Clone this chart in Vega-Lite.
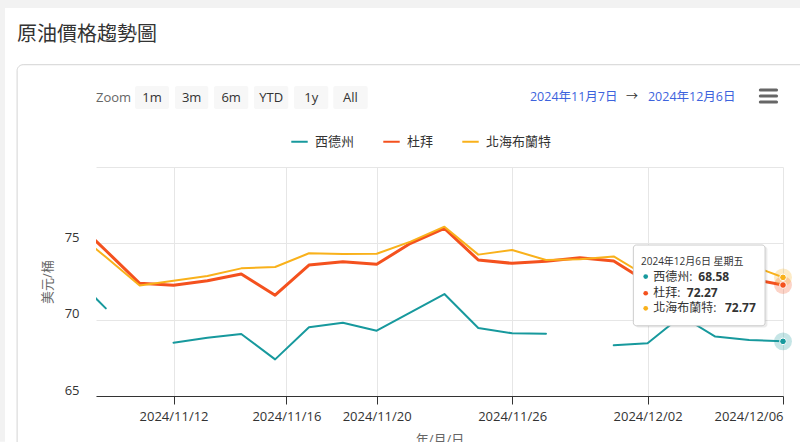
{
  "$schema": "https://vega.github.io/schema/vega-lite/v6.json",
  "autosize": {"type": "none"},
  "width": 687,
  "height": 229,
  "padding": {"left": 96, "top": 167, "right": 17, "bottom": 46},
  "background": "white",
  "config": {
    "font": "Open Sans, Noto Sans CJK TC, sans-serif",
    "view": {"stroke": null}
  },
  "title": {
    "text": "原油價格趨勢圖",
    "anchor": "start",
    "frame": "group",
    "dx": -79,
    "offset": -45,
    "fontSize": 20,
    "fontWeight": "normal",
    "color": "#333333"
  },
  "data": {
    "values": [
      {"date": "2024-11-07", "i": 0, "series": "西德州", "value": 72.97},
      {"date": "2024-11-08", "i": 1, "series": "西德州", "value": 70.74},
      {"date": "2024-11-11", "i": 2, "series": "西德州", "value": null},
      {"date": "2024-11-12", "i": 3, "series": "西德州", "value": 68.49},
      {"date": "2024-11-13", "i": 4, "series": "西德州", "value": 68.82},
      {"date": "2024-11-14", "i": 5, "series": "西德州", "value": 69.06},
      {"date": "2024-11-15", "i": 6, "series": "西德州", "value": 67.40},
      {"date": "2024-11-18", "i": 7, "series": "西德州", "value": 69.50},
      {"date": "2024-11-19", "i": 8, "series": "西德州", "value": 69.80},
      {"date": "2024-11-20", "i": 9, "series": "西德州", "value": 69.28},
      {"date": "2024-11-21", "i": 10, "series": "西德州", "value": 70.48},
      {"date": "2024-11-22", "i": 11, "series": "西德州", "value": 71.68},
      {"date": "2024-11-25", "i": 12, "series": "西德州", "value": 69.45},
      {"date": "2024-11-26", "i": 13, "series": "西德州", "value": 69.11},
      {"date": "2024-11-27", "i": 14, "series": "西德州", "value": 69.08},
      {"date": "2024-11-28", "i": 15, "series": "西德州", "value": null},
      {"date": "2024-11-29", "i": 16, "series": "西德州", "value": 68.32},
      {"date": "2024-12-02", "i": 17, "series": "西德州", "value": 68.45},
      {"date": "2024-12-03", "i": 18, "series": "西德州", "value": 70.24},
      {"date": "2024-12-04", "i": 19, "series": "西德州", "value": 68.89},
      {"date": "2024-12-05", "i": 20, "series": "西德州", "value": 68.67},
      {"date": "2024-12-06", "i": 21, "series": "西德州", "value": 68.58},
      {"date": "2024-11-07", "i": 0, "series": "杜拜", "value": 76.64},
      {"date": "2024-11-08", "i": 1, "series": "杜拜", "value": 74.53},
      {"date": "2024-11-11", "i": 2, "series": "杜拜", "value": 72.38},
      {"date": "2024-11-12", "i": 3, "series": "杜拜", "value": 72.25},
      {"date": "2024-11-13", "i": 4, "series": "杜拜", "value": 72.55},
      {"date": "2024-11-14", "i": 5, "series": "杜拜", "value": 72.99},
      {"date": "2024-11-15", "i": 6, "series": "杜拜", "value": 71.60},
      {"date": "2024-11-18", "i": 7, "series": "杜拜", "value": 73.58},
      {"date": "2024-11-19", "i": 8, "series": "杜拜", "value": 73.80},
      {"date": "2024-11-20", "i": 9, "series": "杜拜", "value": 73.63},
      {"date": "2024-11-21", "i": 10, "series": "杜拜", "value": 75.00},
      {"date": "2024-11-22", "i": 11, "series": "杜拜", "value": 75.98},
      {"date": "2024-11-25", "i": 12, "series": "杜拜", "value": 73.91},
      {"date": "2024-11-26", "i": 13, "series": "杜拜", "value": 73.69},
      {"date": "2024-11-27", "i": 14, "series": "杜拜", "value": 73.82},
      {"date": "2024-11-28", "i": 15, "series": "杜拜", "value": 74.06},
      {"date": "2024-11-29", "i": 16, "series": "杜拜", "value": 73.84},
      {"date": "2024-12-02", "i": 17, "series": "杜拜", "value": 72.45},
      {"date": "2024-12-03", "i": 18, "series": "杜拜", "value": 73.20},
      {"date": "2024-12-04", "i": 19, "series": "杜拜", "value": 72.90},
      {"date": "2024-12-05", "i": 20, "series": "杜拜", "value": 72.69},
      {"date": "2024-12-06", "i": 21, "series": "杜拜", "value": 72.27},
      {"date": "2024-11-07", "i": 0, "series": "北海布蘭特", "value": 75.94},
      {"date": "2024-11-08", "i": 1, "series": "北海布蘭特", "value": 74.10},
      {"date": "2024-11-11", "i": 2, "series": "北海布蘭特", "value": 72.24},
      {"date": "2024-11-12", "i": 3, "series": "北海布蘭特", "value": 72.55},
      {"date": "2024-11-13", "i": 4, "series": "北海布蘭特", "value": 72.86},
      {"date": "2024-11-14", "i": 5, "series": "北海布蘭特", "value": 73.36},
      {"date": "2024-11-15", "i": 6, "series": "北海布蘭特", "value": 73.45},
      {"date": "2024-11-18", "i": 7, "series": "北海布蘭特", "value": 74.35},
      {"date": "2024-11-19", "i": 8, "series": "北海布蘭特", "value": 74.30},
      {"date": "2024-11-20", "i": 9, "series": "北海布蘭特", "value": 74.32},
      {"date": "2024-11-21", "i": 10, "series": "北海布蘭特", "value": 75.11},
      {"date": "2024-11-22", "i": 11, "series": "北海布蘭特", "value": 76.09},
      {"date": "2024-11-25", "i": 12, "series": "北海布蘭特", "value": 74.26},
      {"date": "2024-11-26", "i": 13, "series": "北海布蘭特", "value": 74.56},
      {"date": "2024-11-27", "i": 14, "series": "北海布蘭特", "value": 73.91},
      {"date": "2024-11-28", "i": 15, "series": "北海布蘭特", "value": 73.95},
      {"date": "2024-11-29", "i": 16, "series": "北海布蘭特", "value": 74.14},
      {"date": "2024-12-02", "i": 17, "series": "北海布蘭特", "value": 72.81},
      {"date": "2024-12-03", "i": 18, "series": "北海布蘭特", "value": 73.80},
      {"date": "2024-12-04", "i": 19, "series": "北海布蘭特", "value": 73.30},
      {"date": "2024-12-05", "i": 20, "series": "北海布蘭特", "value": 73.60},
      {"date": "2024-12-06", "i": 21, "series": "北海布蘭特", "value": 72.77}
    ]
  },
  "layer": [
    {
      "data": {"values": [{}]},
      "layer": [
        {"mark": {"type": "rect", "fill": "#f2f2f2"},
         "encoding": {"x": {"datum": -2.2}, "x2": {"datum": 22.1}, "y": {"datum": 90.94}, "y2": {"datum": 90.41}}},
        {"mark": {"type": "rect", "fill": "#f2f2f2"},
         "encoding": {"x": {"datum": -2.2}, "x2": {"datum": -1.978}, "y": {"datum": 90.94}, "y2": {"datum": 62}}},
        {"mark": {"type": "rect", "filled": false, "stroke": "#d4d4d4", "strokeWidth": 1, "cornerRadius": 6},
         "encoding": {"x": {"datum": -1.62}, "x2": {"datum": 23}, "y": {"datum": 86.7}, "y2": {"datum": 58}}}
      ]
    },
    {
      "mark": {"type": "line", "clip": true, "invalid": "break-paths-show-domains", "strokeJoin": "round", "strokeCap": "round"},
      "encoding": {
        "x": {
          "field": "i", "type": "quantitative",
          "scale": {"domain": [0.71, 21], "nice": false, "zero": false},
          "axis": {
            "values": [3, 6.3333, 9, 13, 17, 21],
            "labelExpr": "datum.value < 4 ? '2024/11/12' : datum.value < 7 ? '2024/11/16' : datum.value < 10 ? '2024/11/20' : datum.value < 14 ? '2024/11/26' : datum.value < 18 ? '2024/12/02' : '2024/12/06'",
            "title": "年/月/日",
            "grid": true, "gridColor": "#e6e6e6",
            "domainColor": "#333333", "tickColor": "#333333", "tickSize": 8,
            "labelPadding": 6, "labelFontSize": 13, "labelColor": "#333333",
            "titleFontSize": 13, "titleColor": "#666666", "titleFontWeight": "normal", "titlePadding": 10
          }
        },
        "y": {
          "field": "value", "type": "quantitative",
          "scale": {"domain": [65, 80], "nice": false, "zero": false},
          "axis": {
            "values": [65, 70, 75, 80],
            "labelExpr": "datum.value == 80 ? '' : datum.label",
            "title": "美元/桶",
            "grid": true, "gridColor": "#e6e6e6",
            "domain": false, "ticks": false,
            "labelPadding": 17, "labelOffset": -6, "labelFontSize": 13, "labelColor": "#333333",
            "titleFontSize": 13, "titleColor": "#666666", "titleFontWeight": "normal", "titlePadding": 10
          }
        },
        "color": {
          "field": "series", "type": "nominal",
          "scale": {"domain": ["西德州", "杜拜", "北海布蘭特"], "range": ["#17999d", "#f4511e", "#f9b11b"]},
          "legend": {
            "title": null, "orient": "none", "legendX": 194, "legendY": -35, "direction": "horizontal",
            "symbolType": "stroke", "symbolStrokeWidth": 2, "symbolSize": 270, "symbolOpacity": 1,
            "labelFontSize": 13, "labelColor": "#333333", "labelOffset": 6, "columnPadding": 24, "padding": 0,
            "encode": {"symbols": {"update": {"opacity": {"value": 1}, "strokeOpacity": {"value": 1}}}}
          }
        },
        "strokeWidth": {"condition": {"test": "datum.series === '杜拜'", "value": 3}, "value": 2}
      }
    },
    {
      "transform": [{"filter": "datum.i == 21"}],
      "mark": {"type": "point", "filled": true, "size": 320, "fillOpacity": 0.25},
      "encoding": {
        "x": {"field": "i", "type": "quantitative"},
        "y": {"field": "value", "type": "quantitative"},
        "color": {"field": "series", "type": "nominal"}
      }
    },
    {
      "transform": [{"filter": "datum.i == 21"}],
      "mark": {"type": "point", "filled": true, "size": 45, "opacity": 1, "stroke": "white", "strokeWidth": 1},
      "encoding": {
        "x": {"field": "i", "type": "quantitative"},
        "y": {"field": "value", "type": "quantitative"},
        "color": {"field": "series", "type": "nominal"}
      }
    },
    {
      "data": {"values": [{}]},
      "layer": [
        {"mark": {"type": "rect", "fill": "#000000", "opacity": 0.08, "cornerRadius": 3},
         "encoding": {"x": {"datum": 16.64}, "x2": {"datum": 20.54}, "y": {"datum": 74.8}, "y2": {"datum": 69.48}}},
        {"mark": {"type": "rect", "fill": "#ffffff", "stroke": "#cccccc", "strokeWidth": 1, "cornerRadius": 3},
         "encoding": {"x": {"datum": 16.58}, "x2": {"datum": 20.47}, "y": {"datum": 74.89}, "y2": {"datum": 69.6}}},
        {"mark": {"type": "text", "align": "left", "baseline": "middle", "fontSize": 10, "color": "#333333"},
         "encoding": {"x": {"datum": 16.806}, "y": {"datum": 73.8}, "text": {"value": "2024年12月6日 星期五"}}}
      ]
    },
    {
      "transform": [{"filter": "datum.i == 21 && datum.series == '西德州'"}],
      "layer": [
        {"mark": {"type": "point", "filled": true, "size": 22, "opacity": 1, "color": "#17999d"},
         "encoding": {"x": {"datum": 16.945}, "y": {"datum": 72.82}}},
        {"mark": {"type": "text", "align": "left", "baseline": "middle", "fontSize": 12, "color": "#333333"},
         "encoding": {"x": {"datum": 17.17}, "y": {"datum": 72.82}, "text": {"value": "西德州:"}}},
        {"mark": {"type": "text", "align": "left", "baseline": "middle", "fontSize": 12, "fontWeight": "bold", "color": "#333333"},
         "encoding": {"x": {"datum": 18.498}, "y": {"datum": 72.82}, "text": {"field": "value", "type": "quantitative", "format": ".2f"}}}
      ]
    },
    {
      "transform": [{"filter": "datum.i == 21 && datum.series == '杜拜'"}],
      "layer": [
        {"mark": {"type": "point", "filled": true, "size": 22, "opacity": 1, "color": "#f4511e"},
         "encoding": {"x": {"datum": 16.945}, "y": {"datum": 71.73}}},
        {"mark": {"type": "text", "align": "left", "baseline": "middle", "fontSize": 12, "color": "#333333"},
         "encoding": {"x": {"datum": 17.17}, "y": {"datum": 71.73}, "text": {"value": "杜拜:"}}},
        {"mark": {"type": "text", "align": "left", "baseline": "middle", "fontSize": 12, "fontWeight": "bold", "color": "#333333"},
         "encoding": {"x": {"datum": 18.16}, "y": {"datum": 71.73}, "text": {"field": "value", "type": "quantitative", "format": ".2f"}}}
      ]
    },
    {
      "transform": [{"filter": "datum.i == 21 && datum.series == '北海布蘭特'"}],
      "layer": [
        {"mark": {"type": "point", "filled": true, "size": 22, "opacity": 1, "color": "#f9b11b"},
         "encoding": {"x": {"datum": 16.945}, "y": {"datum": 70.74}}},
        {"mark": {"type": "text", "align": "left", "baseline": "middle", "fontSize": 12, "color": "#333333"},
         "encoding": {"x": {"datum": 17.17}, "y": {"datum": 70.74}, "text": {"value": "北海布蘭特:"}}},
        {"mark": {"type": "text", "align": "left", "baseline": "middle", "fontSize": 12, "fontWeight": "bold", "color": "#333333"},
         "encoding": {"x": {"datum": 19.286}, "y": {"datum": 70.74}, "text": {"field": "value", "type": "quantitative", "format": ".2f"}}}
      ]
    },
    {
      "data": {"values": [{}]},
      "layer": [
        {"mark": {"type": "rect", "fill": "#f7f7f7", "cornerRadius": 2}, "encoding": {"x": {"datum": 1.862}, "x2": {"datum": 2.866}, "y": {"datum": 85.31}, "y2": {"datum": 83.8}}},
        {"mark": {"type": "rect", "fill": "#f7f7f7", "cornerRadius": 2}, "encoding": {"x": {"datum": 3.043}, "x2": {"datum": 4.027}, "y": {"datum": 85.31}, "y2": {"datum": 83.8}}},
        {"mark": {"type": "rect", "fill": "#f7f7f7", "cornerRadius": 2}, "encoding": {"x": {"datum": 4.195}, "x2": {"datum": 5.208}, "y": {"datum": 85.31}, "y2": {"datum": 83.8}}},
        {"mark": {"type": "rect", "fill": "#f7f7f7", "cornerRadius": 2}, "encoding": {"x": {"datum": 5.376}, "x2": {"datum": 6.389}, "y": {"datum": 85.31}, "y2": {"datum": 83.8}}},
        {"mark": {"type": "rect", "fill": "#f7f7f7", "cornerRadius": 2}, "encoding": {"x": {"datum": 6.558}, "x2": {"datum": 7.571}, "y": {"datum": 85.31}, "y2": {"datum": 83.8}}},
        {"mark": {"type": "rect", "fill": "#f7f7f7", "cornerRadius": 2}, "encoding": {"x": {"datum": 7.718}, "x2": {"datum": 8.734}, "y": {"datum": 85.31}, "y2": {"datum": 83.8}}},
        {"mark": {"type": "text", "align": "left", "baseline": "middle", "fontSize": 13, "color": "#666666"}, "encoding": {"x": {"datum": 0.71}, "y": {"datum": 84.52}, "text": {"value": "Zoom"}}},
        {"mark": {"type": "text", "align": "center", "baseline": "middle", "fontSize": 13, "color": "#333333"}, "encoding": {"x": {"datum": 2.364}, "y": {"datum": 84.52}, "text": {"value": "1m"}}},
        {"mark": {"type": "text", "align": "center", "baseline": "middle", "fontSize": 13, "color": "#333333"}, "encoding": {"x": {"datum": 3.535}, "y": {"datum": 84.52}, "text": {"value": "3m"}}},
        {"mark": {"type": "text", "align": "center", "baseline": "middle", "fontSize": 13, "color": "#333333"}, "encoding": {"x": {"datum": 4.702}, "y": {"datum": 84.52}, "text": {"value": "6m"}}},
        {"mark": {"type": "text", "align": "center", "baseline": "middle", "fontSize": 13, "color": "#333333"}, "encoding": {"x": {"datum": 5.883}, "y": {"datum": 84.52}, "text": {"value": "YTD"}}},
        {"mark": {"type": "text", "align": "center", "baseline": "middle", "fontSize": 13, "color": "#333333"}, "encoding": {"x": {"datum": 7.065}, "y": {"datum": 84.52}, "text": {"value": "1y"}}},
        {"mark": {"type": "text", "align": "center", "baseline": "middle", "fontSize": 13, "color": "#333333"}, "encoding": {"x": {"datum": 8.226}, "y": {"datum": 84.52}, "text": {"value": "All"}}},
        {"mark": {"type": "text", "align": "left", "baseline": "middle", "fontSize": 12.5, "color": "#3d63dd"}, "encoding": {"x": {"datum": 13.527}, "y": {"datum": 84.57}, "text": {"value": "2024年11月7日"}}},
        {"mark": {"type": "text", "align": "center", "baseline": "middle", "fontSize": 12, "color": "#333333"}, "encoding": {"x": {"datum": 16.54}, "y": {"datum": 84.57}, "text": {"value": "→"}}},
        {"mark": {"type": "text", "align": "left", "baseline": "middle", "fontSize": 12.5, "color": "#3d63dd"}, "encoding": {"x": {"datum": 17.012}, "y": {"datum": 84.57}, "text": {"value": "2024年12月6日"}}},
        {"mark": {"type": "rule", "color": "#666666", "strokeWidth": 3, "strokeCap": "round"}, "encoding": {"x": {"datum": 20.33}, "x2": {"datum": 20.81}, "y": {"datum": 85.04}}},
        {"mark": {"type": "rule", "color": "#666666", "strokeWidth": 3, "strokeCap": "round"}, "encoding": {"x": {"datum": 20.33}, "x2": {"datum": 20.81}, "y": {"datum": 84.65}}},
        {"mark": {"type": "rule", "color": "#666666", "strokeWidth": 3, "strokeCap": "round"}, "encoding": {"x": {"datum": 20.33}, "x2": {"datum": 20.81}, "y": {"datum": 84.26}}}
      ]
    }
  ]
}
